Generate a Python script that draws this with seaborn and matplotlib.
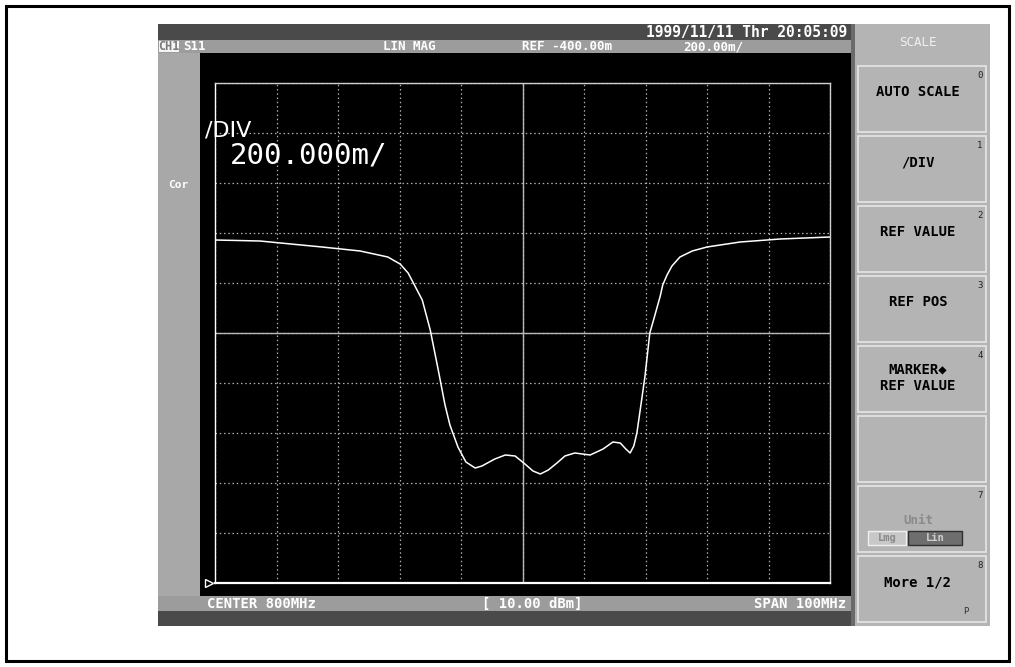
import numpy as np
import pandas as pd
import matplotlib
matplotlib.use("Agg")
import matplotlib.pyplot as plt
from matplotlib.patches import Rectangle
import seaborn as sns

# ---------------- data (S11 LIN MAG trace) ----------------
freq_mhz = [750.0, 757.3, 767.4, 773.6, 778.1, 780.1, 781.4, 782.0, 783.7, 785.0,
            786.3, 787.4, 788.2, 789.5, 790.8, 792.3, 793.4, 795.5, 797.2, 798.8,
            800.4, 801.7, 802.9, 804.2, 805.6, 806.9, 808.5, 811.0, 813.1, 814.7,
            815.9, 816.8, 817.5, 818.1, 818.6, 819.3, 819.9, 820.7, 821.4, 821.9,
            822.4, 822.8, 823.5, 824.3, 825.6, 827.6, 830.0, 835.4, 841.9, 850.0]
s11_mag = [0.972, 0.968, 0.944, 0.928, 0.904, 0.876, 0.840, 0.812, 0.732, 0.612,
           0.452, 0.312, 0.232, 0.144, 0.084, 0.060, 0.068, 0.096, 0.112, 0.108,
           0.076, 0.048, 0.036, 0.052, 0.080, 0.108, 0.120, 0.112, 0.136, 0.164,
           0.160, 0.136, 0.120, 0.148, 0.200, 0.320, 0.424, 0.600, 0.660, 0.704,
           0.748, 0.792, 0.832, 0.868, 0.904, 0.928, 0.944, 0.964, 0.976, 0.984]

x_ticks = [750, 760, 770, 780, 790, 800, 810, 820, 830, 840, 850]
y_ticks = [-0.4, -0.2, 0.0, 0.2, 0.4, 0.6, 0.8, 1.0, 1.2, 1.4, 1.6]
center_freq = 800
center_level = 0.6

header_texts = ["S11", "LIN MAG", "REF -400.00m", "200.00m/"]
date_text = "1999/11/11 Thr 20:05:09"
footer_texts = ["CENTER 800MHz", "[ 10.00 dBm]", "SPAN 100MHz"]
softkeys = ["AUTO SCALE", "/DIV", "REF VALUE", "REF POS", "MARKER\u25c6\nREF VALUE", "", "Unit", "More 1/2"]
softkey_nums = ["0", "1", "2", "3", "4", "", "7", "8"]

df = pd.DataFrame({"freq": freq_mhz, "mag": s11_mag})

sns.set_theme(style="white")
plt.rcParams["font.family"] = ["DejaVu Sans Mono", "DejaVu Sans"]

W, H = 1015, 667
fig = plt.figure(figsize=(W / 100, H / 100), dpi=100)
fig.patch.set_facecolor("white")

# background / layout axes in pixel coordinates
bg = fig.add_axes([0, 0, 1, 1])
bg.set_xlim(0, W)
bg.set_ylim(H, 0)
bg.axis("off")

def rect(x0, y0, x1, y1, fc, ec="none", lw=0, z=1):
    bg.add_patch(Rectangle((x0, y0), x1 - x0, y1 - y0, facecolor=fc,
                           edgecolor=ec, linewidth=lw, zorder=z))

# outer frame
rect(6, 6, 1009, 661, "none", ec="black", lw=2.2, z=5)

# screen parts
rect(158, 24, 851, 40, "#4a4a4a")          # top dark bar
rect(158, 40, 851, 53, "#9c9c9c")          # header bar
rect(158, 53, 200, 596, "#a8a8a8")         # left strip
rect(200, 53, 851, 596, "#000000")         # black display area
rect(158, 596, 851, 611, "#9c9c9c")        # footer bar
rect(158, 611, 851, 626, "#4a4a4a")        # bottom dark bar
rect(851, 24, 990, 626, "#b4b4b4")         # softkey panel
rect(851, 24, 855, 626, "#6a6a6a")

# header
rect(159, 41, 179, 52, "#f4f4f4", z=2)
bg.text(169, 47, "CH1", color="#7a7a7a", fontsize=8.5, fontweight="bold",
        ha="center", va="center", zorder=3)
hx = [183, 383, 522, 683]
for t, x in zip(header_texts, hx):
    bg.text(x, 47, t, color="white", fontsize=9, fontweight="bold",
            ha="left", va="center", zorder=3)
bg.text(847, 32.5, date_text, color="white", fontsize=10.5, fontweight="bold",
        ha="right", va="center", zorder=3)

# footer
bg.text(207, 604, footer_texts[0], color="white", fontsize=10, fontweight="bold",
        ha="left", va="center", zorder=3)
bg.text(532, 604, footer_texts[1], color="white", fontsize=10, fontweight="bold",
        ha="center", va="center", zorder=3)
bg.text(846, 604, footer_texts[2], color="white", fontsize=10, fontweight="bold",
        ha="right", va="center", zorder=3)

# left strip label
bg.text(168, 185, "Cor", color="white", fontsize=8, fontweight="bold",
        ha="left", va="center", zorder=3)

# softkey panel
bg.text(918, 43, "SCALE", color="#f0f0f0", fontsize=9, ha="center", va="center", zorder=3)
key_top = 64
key_h = 70
for i, (lab, num) in enumerate(zip(softkeys, softkey_nums)):
    y0 = key_top + i * key_h
    rect(858, y0 + 2, 986, y0 + key_h - 2, "none", ec="#e6e6e6", lw=1.2, z=2)
    if num:
        bg.text(980, y0 + 12, num, color="#202020", fontsize=6.5,
                ha="center", va="center", zorder=3)
    if lab == "Unit":
        bg.text(918, y0 + 36, lab, color="#8a8a8a", fontsize=9, fontweight="bold",
                ha="center", va="center", zorder=3)
        rect(868, y0 + 47, 906, y0 + 61, "#c8c8c8", ec="#f0f0f0", lw=1, z=3)
        rect(908, y0 + 47, 962, y0 + 61, "#6e6e6e", ec="#303030", lw=1, z=3)
        bg.text(887, y0 + 54, "Lmg", color="#8a8a8a", fontsize=7.5, fontweight="bold",
                ha="center", va="center", zorder=4)
        bg.text(935, y0 + 54, "Lin", color="#d0d0d0", fontsize=7.5, fontweight="bold",
                ha="center", va="center", zorder=4)
    elif lab:
        bg.text(918, y0 + 28 if "\n" not in lab else y0 + 34, lab, color="black",
                fontsize=10, fontweight="bold", ha="center", va="center",
                linespacing=1.25, zorder=3)
bg.text(966, 611, "P", color="#303030", fontsize=6.5, ha="center", va="center", zorder=3)

# ---------------- data axes ----------------
gx0, gx1, gy0, gy1 = 215, 830, 83, 583
ax = fig.add_axes([gx0 / W, (H - gy1) / H, (gx1 - gx0) / W, (gy1 - gy0) / H])
ax.set_facecolor("black")
ax.set_xlim(x_ticks[0], x_ticks[-1])
ax.set_ylim(y_ticks[0], y_ticks[-1])
ax.set_xticks(x_ticks)
ax.set_yticks(y_ticks)
ax.tick_params(length=0, labelbottom=False, labelleft=False)
ax.grid(True, color="#b0b0b0", linestyle=(0, (1.2, 2.2)), linewidth=0.9)
ax.axvline(center_freq, color="#b8b8b8", linewidth=1.0)
ax.axhline(center_level, color="#b8b8b8", linewidth=1.0)
for s in ax.spines.values():
    s.set_color("#d0d0d0")
    s.set_linewidth(1.0)
ax.spines["bottom"].set_color("white")
ax.spines["bottom"].set_linewidth(1.6)
ax.spines["left"].set_color("white")

sns.lineplot(data=df, x="freq", y="mag", ax=ax, color="white", linewidth=1.1)
ax.set_xlabel("")
ax.set_ylabel("")

# reference position marker
ax.plot([x_ticks[0]], [y_ticks[0]], marker=">", markersize=6, markerfacecolor="none",
        markeredgecolor="white", clip_on=False, zorder=5,
        transform=ax.transData + matplotlib.transforms.ScaledTranslation(-6 / 100, 0, fig.dpi_scale_trans))

# /DIV overlay text
ax.text(-0.016, 0.906, "/DIV", transform=ax.transAxes, color="white",
        fontsize=16, family="DejaVu Sans", ha="left", va="center")
ax.text(0.024, 0.855, "200.000m/", transform=ax.transAxes, color="white",
        fontsize=21, ha="left", va="center")

fig.savefig("out.png", dpi=100)
